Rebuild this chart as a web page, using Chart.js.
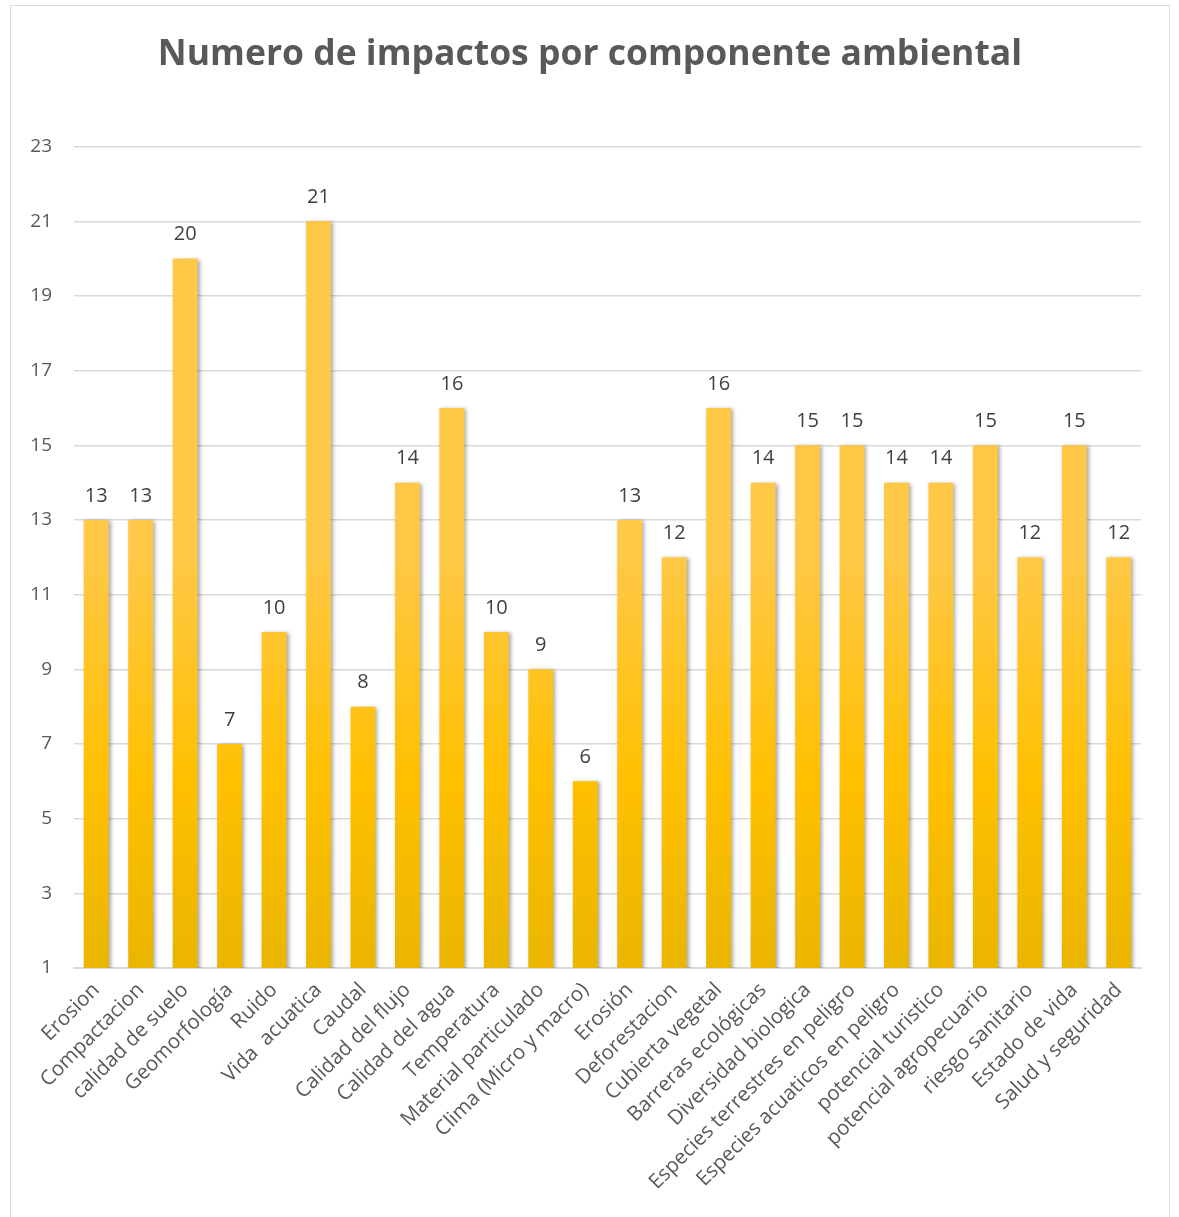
<!DOCTYPE html>
<html>
<head>
<meta charset="utf-8">
<script src="https://cdn.jsdelivr.net/npm/chart.js@4.4.0/dist/chart.umd.min.js"></script>
<style>
  body { margin: 0; background: #ffffff; }
  #caja {
    position: absolute; left: 10px; top: 5px;
    width: 1158px; height: 1220px;
    border: 1px solid #d9d9d9; background: #fff;
  }
  #grafico { display: block; }
</style>
</head>
<body>
<div id="caja"><canvas id="grafico" width="1158" height="1210"></canvas></div>
<script>
const componentes = [
    'Erosion', 'Compactacion', 'calidad de suelo', 'Geomorfología', 'Ruido',
    'Vida  acuatica', 'Caudal', 'Calidad del flujo', 'Calidad del agua', 'Temperatura',
    'Material particulado', 'Clima (Micro y macro)', 'Erosión', 'Deforestacion',
    'Cubierta vegetal', 'Barreras ecológicas', 'Diversidad biologica',
    'Especies terrestres en peligro', 'Especies acuaticos en peligro',
    'potencial turistico', 'potencial agropecuario', 'riesgo sanitario',
    'Estado de vida', 'Salud y seguridad'
];
const impactos = [13, 13, 20, 7, 10, 21, 8, 14, 16, 10, 9, 6, 13, 12, 16, 14, 15, 15, 14, 14, 15, 12, 15, 12];
const ejeMin = 1;
const ejeMax = 23;
const ejePaso = 2;

const fuente = "'Open Sans', 'DejaVu Sans', sans-serif";

// degradado por barra, como en Excel
const degradadoBarras = {
    id: 'degradadoBarras',
    beforeDatasetsDraw(chart) {
        const ctx = chart.ctx;
        chart.getDatasetMeta(0).data.forEach(barra => {
            const g = ctx.createLinearGradient(0, barra.y, 0, barra.base);
            g.addColorStop(0, '#FFC846');
            g.addColorStop(0.5, '#FFC000');
            g.addColorStop(1, '#E6B300');
            barra.options.backgroundColor = g;
        });
        ctx.save();
        ctx.shadowColor = 'rgba(0,0,0,0.35)';
        ctx.shadowBlur = 4;
        ctx.shadowOffsetX = 2;
        ctx.shadowOffsetY = 1;
    },
    afterDatasetsDraw(chart) {
        const ctx = chart.ctx;
        ctx.restore();
        ctx.save();
        ctx.font = '20px ' + fuente;
        ctx.fillStyle = '#404040';
        ctx.textAlign = 'center';
        ctx.textBaseline = 'bottom';
        chart.getDatasetMeta(0).data.forEach((barra, i) => {
            ctx.fillText(impactos[i], barra.x, barra.y - 14);
        });
        ctx.restore();
    }
};

var ctx = document.getElementById('grafico').getContext('2d');
var grafico = new Chart(ctx, {
    type: 'bar',
    data: {
        labels: componentes,
        datasets: [{
            label: 'Impactos',
            data: impactos,
            backgroundColor: '#FFC000',
            borderWidth: 0,
            barPercentage: 0.56,
            categoryPercentage: 1
        }]
    },
    options: {
        responsive: false,
        animation: false,
        layout: { padding: 0 },
        plugins: {
            legend: { display: false },
            tooltip: { enabled: false },
            title: {
                display: true,
                text: 'Numero de impactos por componente ambiental',
                color: '#595959',
                font: { family: fuente, size: 35.5, weight: 'bold' },
                padding: { top: 28, bottom: 70 }
            }
        },
        scales: {
            x: {
                grid: { display: false, drawTicks: false },
                border: { display: true, color: '#d9d9d9', width: 2 },
                ticks: {
                    color: '#595959',
                    font: { family: fuente, size: 20.5 },
                    maxRotation: 45,
                    minRotation: 45,
                    autoSkip: false,
                    padding: 10
                },
                afterFit(eje) { eje.height = 248; }
            },
            y: {
                min: ejeMin,
                max: ejeMax,
                grid: { color: '#d9d9d9', lineWidth: 1.5, drawTicks: false },
                border: { display: false },
                ticks: {
                    stepSize: ejePaso,
                    color: '#595959',
                    font: { family: fuente, size: 19 },
                    padding: 22
                },
                afterFit(eje) { eje.width = 63; }
            },
            // margen derecho vacío
            margen: {
                type: 'linear',
                position: 'right',
                display: true,
                grid: { display: false, drawTicks: false },
                border: { display: false },
                ticks: { display: false },
                afterFit(eje) { eje.width = 28; }
            }
        }
    },
    plugins: [degradadoBarras]
});
</script>
</body>
</html>
